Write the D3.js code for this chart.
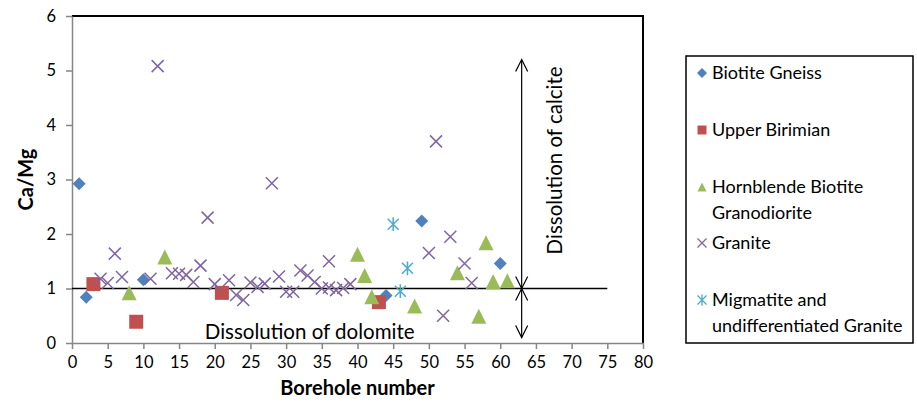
<!DOCTYPE html>
<meta charset="utf-8">
<style>
body { margin: 0; background: #fff; }
svg text { font-family: Lato, "Open Sans", sans-serif; fill: #000; }
.axis path, .axis line { stroke: #868686; stroke-width: 1.5px; }
.axis text { font-size: 16.5px; }
</style>
<body>
<script src="https://d3js.org/d3.v7.min.js"></script>
<script>
// borehole number / Ca:Mg ratio
var gneissX = [1, 2, 10, 44, 49, 60];
var gneissY = [2.92, 0.84, 1.16, 0.87, 2.24, 1.46];

var birimianX = [3, 9, 21, 43];
var birimianY = [1.08, 0.39, 0.92, 0.75];

var hornblendeX = [8, 13, 40, 41, 42, 48, 54, 57, 58, 59, 61];
var hornblendeY = [0.92, 1.58, 1.63, 1.24, 0.85, 0.68, 1.29, 0.49, 1.84, 1.13, 1.14];

var graniteX = [4, 5, 6, 7, 11, 12, 14, 15, 16, 17, 18, 19, 20, 22, 23, 24, 25, 26, 27, 28,
                29, 30, 31, 32, 33, 34, 35, 36, 36, 37, 38, 39, 50, 51, 52, 53, 55, 56];
var graniteY = [1.18, 1.1, 1.64, 1.21, 1.18, 5.08, 1.28, 1.27, 1.25, 1.12, 1.42, 2.3, 1.08, 1.15, 0.88, 0.79, 1.11, 1.03, 1.09, 2.93,
                1.22, 0.94, 0.94, 1.33, 1.24, 1.12, 1.0, 1.5, 1.02, 0.97, 1.01, 1.08, 1.65, 3.7, 0.5, 1.95, 1.46, 1.1];

var migmatiteX = [45, 46, 47];
var migmatiteY = [2.18, 0.95, 1.37];

var seriesNames = ["Biotite Gneiss", "Upper Birimian", "Hornblende Biotite Granodiorite", "Granite",
                   "Migmatite and undifferentiated Granite"];
var legendLines = [["Biotite Gneiss"], ["Upper Birimian"], ["Hornblende Biotite", "Granodiorite"], ["Granite"],
                   ["Migmatite and", "undifferentiated Granite"]];
var seriesColors = ["#4F81BD", "#C0504D", "#9BBB59", "#8064A2", "#4BACC6"];

var xTicks = [0, 5, 10, 15, 20, 25, 30, 35, 40, 45, 50, 55, 60, 65, 70, 75, 80];
var yTicks = [0, 1, 2, 3, 4, 5, 6];

// reference line at Ca/Mg = 1 and the divider arrow
var refLineY = 1, refLineXEnd = 75;
var arrowX = 63, arrowTop = 5.2, arrowBottom = 0.1;

var margin = {top: 16, right: 274, bottom: 59, left: 72},
    width = 917 - margin.left - margin.right,
    height = 402 - margin.top - margin.bottom;

var svg = d3.select("body").append("svg")
    .attr("width", 917)
    .attr("height", 402);

var g = svg.append("g")
    .attr("transform", "translate(" + margin.left + "," + margin.top + ")");

var x = d3.scaleLinear().domain([0, 80]).range([0, width]);
var y = d3.scaleLinear().domain([0, 6]).range([height, 0]);

// plot area border (top/right black)
g.append("path")
    .attr("d", "M0,0 H" + width + " V" + height)
    .attr("fill", "none")
    .attr("stroke", "#000")
    .attr("stroke-width", 2);

g.append("g")
    .attr("class", "axis")
    .attr("transform", "translate(0," + height + ")")
    .call(d3.axisBottom(x).tickValues(xTicks).tickFormat(d3.format("d")).tickSize(6).tickPadding(7).tickSizeOuter(0))
    .selectAll("text").style("fill", "#000");

g.append("g")
    .attr("class", "axis")
    .call(d3.axisLeft(y).tickValues(yTicks).tickFormat(d3.format("d")).tickSize(6).tickPadding(10).tickSizeOuter(0))
    .selectAll("text").style("fill", "#000");

// reference lines
g.append("line")
    .attr("x1", x(0)).attr("x2", x(refLineXEnd))
    .attr("y1", y(refLineY)).attr("y2", y(refLineY))
    .attr("stroke", "#000").attr("stroke-width", 1.5);

g.append("line")
    .attr("x1", x(arrowX)).attr("x2", x(arrowX))
    .attr("y1", y(arrowTop)).attr("y2", y(arrowBottom))
    .attr("stroke", "#000").attr("stroke-width", 1.2);

function head(xv, yv, dir) {
  // open arrow head, dir = -1 points up, 1 points down
  var px = x(xv), py = y(yv);
  return "M" + (px - 6) + "," + (py - dir * 12) + " L" + px + "," + py + " L" + (px + 6) + "," + (py - dir * 12);
}
[[arrowTop, -1], [refLineY, 1], [refLineY, -1], [arrowBottom, 1]].forEach(function(h) {
  g.append("path")
    .attr("d", head(arrowX, h[0], h[1]))
    .attr("fill", "none").attr("stroke", "#000").attr("stroke-width", 1.2);
});

g.append("text")
    .attr("transform", "translate(" + (x(arrowX) + 40) + "," + y(3.35) + ") rotate(-90)")
    .attr("text-anchor", "middle")
    .style("font-size", "20.5px")
    .text("Dissolution of calcite");

g.append("text")
    .attr("x", x(33.3))
    .attr("y", y(0.08))
    .attr("text-anchor", "middle")
    .style("font-size", "20.5px")
    .text("Dissolution of dolomite");

// marker shapes
function markerPath(i, s) {
  if (i === 0) return "M0," + (-s) + " L" + s + ",0 L0," + s + " L" + (-s) + ",0 Z";
  if (i === 1) return "M" + (-s) + "," + (-s) + " H" + s + " V" + s + " H" + (-s) + " Z";
  if (i === 2) return "M0," + (-s) + " L" + s + "," + s + " L" + (-s) + "," + s + " Z";
  if (i === 3) return "M" + (-s) + "," + (-s) + " L" + s + "," + s + " M" + s + "," + (-s) + " L" + (-s) + "," + s;
  return "M" + (-s) + "," + (-s) + " L" + s + "," + s + " M" + s + "," + (-s) + " L" + (-s) + "," + s +
         " M0," + (-s * 1.25) + " V" + (s * 1.25);
}
var markerSize = [6.5, 7, 7.5, 6, 5.5];

var allSeries = [
  d3.zip(gneissX, gneissY), d3.zip(birimianX, birimianY), d3.zip(hornblendeX, hornblendeY),
  d3.zip(graniteX, graniteY), d3.zip(migmatiteX, migmatiteY)
];

allSeries.forEach(function(data, i) {
  var lineMarker = i >= 3;
  g.selectAll(".m" + i)
      .data(data)
    .enter().append("path")
      .attr("class", "m" + i)
      .attr("transform", function(d) { return "translate(" + x(d[0]) + "," + y(d[1]) + ")"; })
      .attr("d", markerPath(i, markerSize[i]))
      .attr("fill", lineMarker ? "none" : seriesColors[i])
      .attr("stroke", lineMarker ? seriesColors[i] : "none")
      .attr("stroke-width", 1.5);
});

// axis titles
svg.append("text")
    .attr("x", margin.left + width / 2)
    .attr("y", 395)
    .attr("text-anchor", "middle")
    .style("font-size", "20px")
    .style("font-weight", "bold")
    .text("Borehole number");

svg.append("text")
    .attr("transform", "translate(33," + (margin.top + height / 2) + ") rotate(-90)")
    .attr("text-anchor", "middle")
    .style("font-size", "20px")
    .style("font-weight", "bold")
    .text("Ca/Mg");

// legend
var legend = svg.append("g");
legend.append("rect")
    .attr("x", 686).attr("y", 56)
    .attr("width", 227).attr("height", 287)
    .attr("fill", "#fff").attr("stroke", "#000").attr("stroke-width", 1.5);

var legendY = [73, 130, 187, 243, 300];
legendLines.forEach(function(lines, i) {
  var lineMarker = i >= 3;
  legend.append("path")
      .attr("transform", "translate(702," + legendY[i] + ")")
      .attr("d", markerPath(i, i === 0 ? 5 : 4.5))
      .attr("fill", lineMarker ? "none" : seriesColors[i])
      .attr("stroke", lineMarker ? seriesColors[i] : "none")
      .attr("stroke-width", 1.3);
  lines.forEach(function(t, j) {
    legend.append("text")
        .attr("x", 712)
        .attr("y", legendY[i] + j * 25.7)
        .attr("dy", "0.35em")
        .style("font-size", "18px")
        .text(t);
  });
});
</script>
</body>
